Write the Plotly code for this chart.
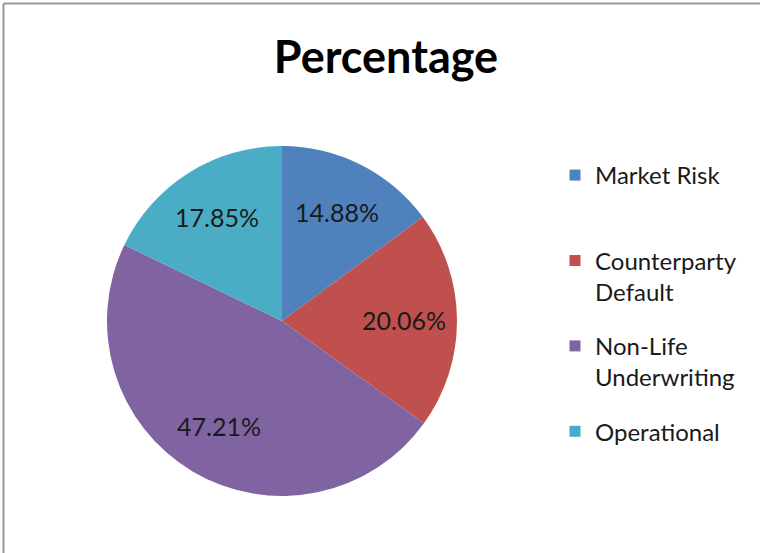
import math
import plotly.graph_objects as go

categories = ["Market Risk", "Counterparty Default", "Non-Life Underwriting", "Operational"]
legend_labels = ["Market Risk<br>\u00a0", "Counterparty<br>Default", "Non-Life<br>Underwriting", "Operational"]
values = [14.88, 20.06, 47.21, 17.85]
colors = ["#4F81BD", "#C0504D", "#8064A2", "#4BACC6"]

W, H = 760, 553
cx_px, cy_px, R_px = 282, 321, 175
dom_x = [(cx_px - R_px) / W, (cx_px + R_px) / W]
dom_y = [(H - cy_px - R_px) / H, (H - cy_px + R_px) / H]

fig = go.Figure()
fig.add_trace(go.Pie(
    labels=categories,
    values=values,
    marker=dict(colors=colors, line=dict(width=0)),
    sort=False,
    direction="clockwise",
    rotation=0,
    textinfo="none",
    hoverinfo="label+percent",
    domain=dict(x=dom_x, y=dom_y),
    showlegend=False,
))

# legend entries (one group each, so the gap between entries can be set)
for i, (lab, col) in enumerate(zip(legend_labels, colors)):
    fig.add_trace(go.Scatter(
        x=[None], y=[None], mode="markers", name=lab,
        marker=dict(symbol="square", size=11, color=col),
        legendgroup=f"g{i}", showlegend=True, hoverinfo="skip",
    ))

# percentage labels placed at the angular middle of each slice
total = sum(values)
cum = 0.0
label_r = 0.70
annotations = []
for v in values:
    mid = (cum + v / 2) / total * 2 * math.pi
    cum += v
    ax = (cx_px + label_r * R_px * math.sin(mid)) / W
    ay = (H - cy_px + label_r * R_px * math.cos(mid)) / H
    annotations.append(dict(
        x=ax, y=ay, xref="paper", yref="paper", showarrow=False,
        text=f"{v:.2f}%", font=dict(family="Lato", size=25, color="#1a1a1a"),
        xanchor="center", yanchor="middle",
    ))

fig.update_layout(
    width=W, height=H,
    margin=dict(l=0, r=0, t=0, b=0),
    paper_bgcolor="white",
    plot_bgcolor="white",
    xaxis=dict(visible=False),
    yaxis=dict(visible=False),
    title=dict(text="<b>Percentage</b>", x=386 / W, xanchor="center",
               y=1 - 57 / H, yanchor="middle", yref="container",
               font=dict(family="Lato", size=45, color="black")),
    showlegend=True,
    legend=dict(x=555 / W, xanchor="left", y=1 - 153 / H, yanchor="top",
                valign="top", tracegroupgap=20,
                font=dict(family="Lato", size=24, color="#1a1a1a"),
                bgcolor="rgba(0,0,0,0)"),
    annotations=annotations,
    shapes=[
        dict(type="line", xref="paper", yref="paper",
             x0=3.5 / W, x1=3.5 / W, y0=0, y1=1 - 3.5 / H,
             line=dict(color="#999999", width=2)),
        dict(type="line", xref="paper", yref="paper",
             x0=3.5 / W, x1=1, y0=1 - 3.5 / H, y1=1 - 3.5 / H,
             line=dict(color="#999999", width=2)),
    ],
)

fig.write_html("out.html", config={"displayModeBar": False})
